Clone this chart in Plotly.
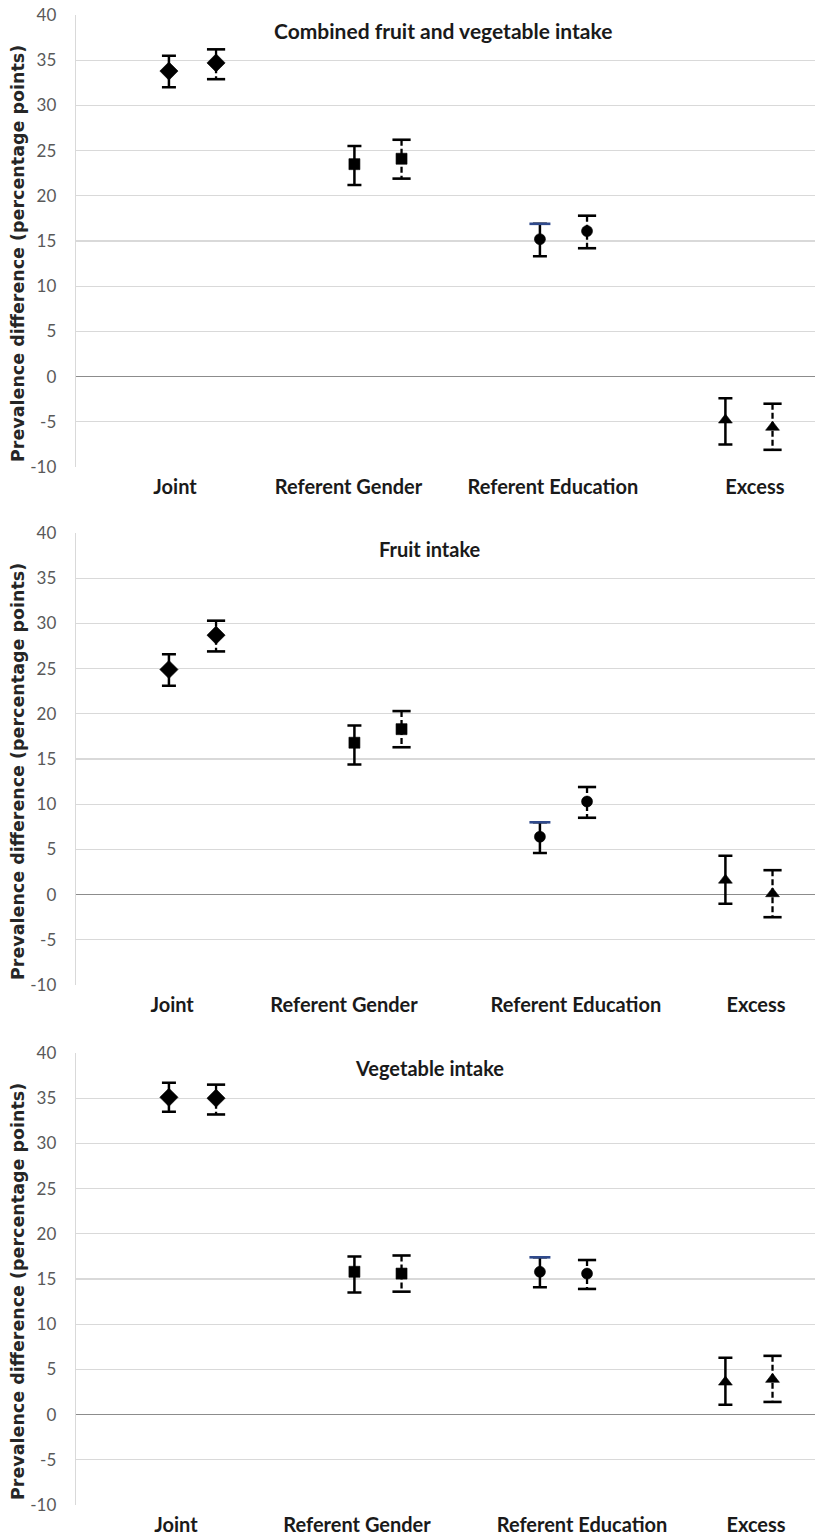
import plotly.graph_objects as go

# ---------------- data ----------------
categories = ["Joint", "Referent Gender", "Referent Education", "Excess"]
panel_titles = ["Combined fruit and vegetable intake", "Fruit intake", "Vegetable intake"]
y_title = "Prevalence difference (percentage points)"

# panel 1: combined fruit and vegetable intake
p1_est_a = [33.8, 23.5, 15.2, -4.8]
p1_lo_a = [32.0, 21.2, 13.3, -7.5]
p1_hi_a = [35.5, 25.5, 16.9, -2.4]
p1_est_b = [34.7, 24.1, 16.1, -5.6]
p1_lo_b = [32.9, 21.9, 14.2, -8.1]
p1_hi_b = [36.2, 26.2, 17.8, -3.0]

# panel 2: fruit intake
p2_est_a = [24.9, 16.8, 6.4, 1.6]
p2_lo_a = [23.1, 14.4, 4.6, -1.0]
p2_hi_a = [26.6, 18.7, 8.0, 4.3]
p2_est_b = [28.7, 18.3, 10.3, 0.1]
p2_lo_b = [26.9, 16.3, 8.5, -2.5]
p2_hi_b = [30.3, 20.3, 11.9, 2.7]

# panel 3: vegetable intake
p3_est_a = [35.1, 15.8, 15.8, 3.6]
p3_lo_a = [33.5, 13.5, 14.1, 1.1]
p3_hi_a = [36.7, 17.5, 17.4, 6.3]
p3_est_b = [35.0, 15.6, 15.6, 3.9]
p3_lo_b = [33.2, 13.6, 13.9, 1.4]
p3_hi_b = [36.5, 17.6, 17.1, 6.5]

y_ticks = [-10, -5, 0, 5, 10, 15, 20, 25, 30, 35, 40]
y_tick_text = [str(v) for v in y_ticks]

panels = [
    (p1_est_a, p1_lo_a, p1_hi_a, p1_est_b, p1_lo_b, p1_hi_b),
    (p2_est_a, p2_lo_a, p2_hi_a, p2_est_b, p2_lo_b, p2_hi_b),
    (p3_est_a, p3_lo_a, p3_hi_a, p3_est_b, p3_lo_b, p3_hi_b),
]

# ---------------- style / layout ----------------
OFF = 0  # body margin removed by post_script
W, H = 815 - OFF, 1537 - OFF
symbols = ["diamond", "square", "circle", "triangle-up"]
sizes = [14, 11, 11, 12]
offset = 0.127
x_range = [-0.628, 3.356]
panel_px = [(15, 467), (533, 985), (1053, 1505)]
label_shift = [
    [-0.094, -0.159, -0.057, 0.032],
    [-0.110, -0.183, 0.067, 0.038],
    [-0.089, -0.113, 0.100, 0.038],
]
title_px = [(443, 31), (430, 549), (430, 1068)]
title_sizes = [21, 20, 20]
ytitle_px_y = [254, 772, 1292]
left_px = 76


def px_x(v):
    return (v - OFF) / W


def px_y(v):
    return 1 - (v - OFF) / H


fig = go.Figure()
layout_axes = {}

for p, (ea, la, ha, eb, lb, hb) in enumerate(panels):
    xa = "x" if p == 0 else f"x{p+1}"
    ya = "y" if p == 0 else f"y{p+1}"
    xs_a = [i - offset for i in range(len(categories))]
    xs_b = [i + offset for i in range(len(categories))]

    # left series with solid error bars
    fig.add_trace(go.Scatter(
        x=xs_a, y=ea, mode="markers",
        marker=dict(symbol=symbols, size=sizes, color="black",
                    line=dict(color="black", width=0.6), opacity=1),
        error_y=dict(type="data", symmetric=False,
                     array=[h - e for h, e in zip(ha, ea)],
                     arrayminus=[e - l for e, l in zip(ea, la)],
                     color="black", thickness=2.5, width=7),
        xaxis=xa, yaxis=ya, showlegend=False, hoverinfo="skip"))
    # blue upper cap on Referent Education (left)
    fig.add_trace(go.Scatter(
        x=[xs_a[2]], y=[ha[2]], mode="markers",
        marker=dict(symbol="line-ew", size=15, line=dict(color="#2F4A8C", width=2.6)),
        xaxis=xa, yaxis=ya, showlegend=False, hoverinfo="skip"))

    # right series: dashed error lines
    vx, vy = [], []
    for i in range(len(categories)):
        vx += [xs_b[i], xs_b[i], None]
        vy += [hb[i], lb[i], None]
    fig.add_trace(go.Scatter(
        x=vx, y=vy, mode="lines",
        line=dict(color="black", width=2.3, dash="6px,3px"),
        xaxis=xa, yaxis=ya, showlegend=False, hoverinfo="skip"))
    fig.add_trace(go.Scatter(
        x=xs_b + xs_b, y=hb + lb, mode="markers",
        marker=dict(symbol="line-ew", size=13, line=dict(color="black", width=2.6)),
        xaxis=xa, yaxis=ya, showlegend=False, hoverinfo="skip"))
    fig.add_trace(go.Scatter(
        x=xs_b, y=eb, mode="markers",
        marker=dict(symbol=symbols, size=sizes, color="black",
                    line=dict(color="black", width=0.6), opacity=1),
        xaxis=xa, yaxis=ya, showlegend=False, hoverinfo="skip"))

    top, bot = panel_px[p]
    ykey = "yaxis" if p == 0 else f"yaxis{p+1}"
    xkey = "xaxis" if p == 0 else f"xaxis{p+1}"
    layout_axes[ykey] = dict(
        domain=[px_y(bot), px_y(top)], range=[-10, 40],
        tickvals=y_ticks, ticktext=y_tick_text,
        showgrid=True, gridcolor="#d9d9d9", gridwidth=1.3,
        zeroline=True, zerolinecolor="#8c8c8c", zerolinewidth=1.6,
        showline=True, linecolor="#d9d9d9", linewidth=1.3,
        ticks="", ticklabelstandoff=15, automargin=False,
        ticklabeloverflow="allow",
        tickfont=dict(family="Lato", size=17, color="#595959"),
        anchor=xa, fixedrange=True)
    layout_axes[xkey] = dict(
        domain=[px_x(left_px), 1], range=x_range,
        tickvals=[i + s for i, s in enumerate(label_shift[p])],
        ticktext=categories, showgrid=False, zeroline=False, showline=False,
        ticks="", ticklabelstandoff=6, automargin=False,
        ticklabeloverflow="allow",
        tickfont=dict(family="Lato", size=20, color="#1a1a1a", weight="bold"),
        anchor=ya, fixedrange=True)

annotations = []
for p in range(3):
    tx, ty = title_px[p]
    annotations.append(dict(
        text=panel_titles[p], x=px_x(tx), y=px_y(ty), xref="paper", yref="paper",
        xanchor="center", yanchor="middle", showarrow=False,
        font=dict(family="Lato", size=title_sizes[p], color="#1a1a1a", weight="bold")))
    annotations.append(dict(
        text=y_title, x=px_x(18), y=px_y(ytitle_px_y[p]), xref="paper", yref="paper",
        xanchor="center", yanchor="middle", showarrow=False, textangle=-90,
        font=dict(family="DejaVu Sans", size=17.5, color="#262626", weight="bold")))

fig.update_layout(
    width=W, height=H, margin=dict(l=0, r=0, t=0, b=0, autoexpand=False),
    paper_bgcolor="white", plot_bgcolor="white", hovermode=False,
    annotations=annotations, **layout_axes)

fig.write_html(
    "out.html",
    config={"displayModeBar": False, "staticPlot": True},
    post_script="document.body.style.margin='0px';document.body.style.overflow='hidden';")
